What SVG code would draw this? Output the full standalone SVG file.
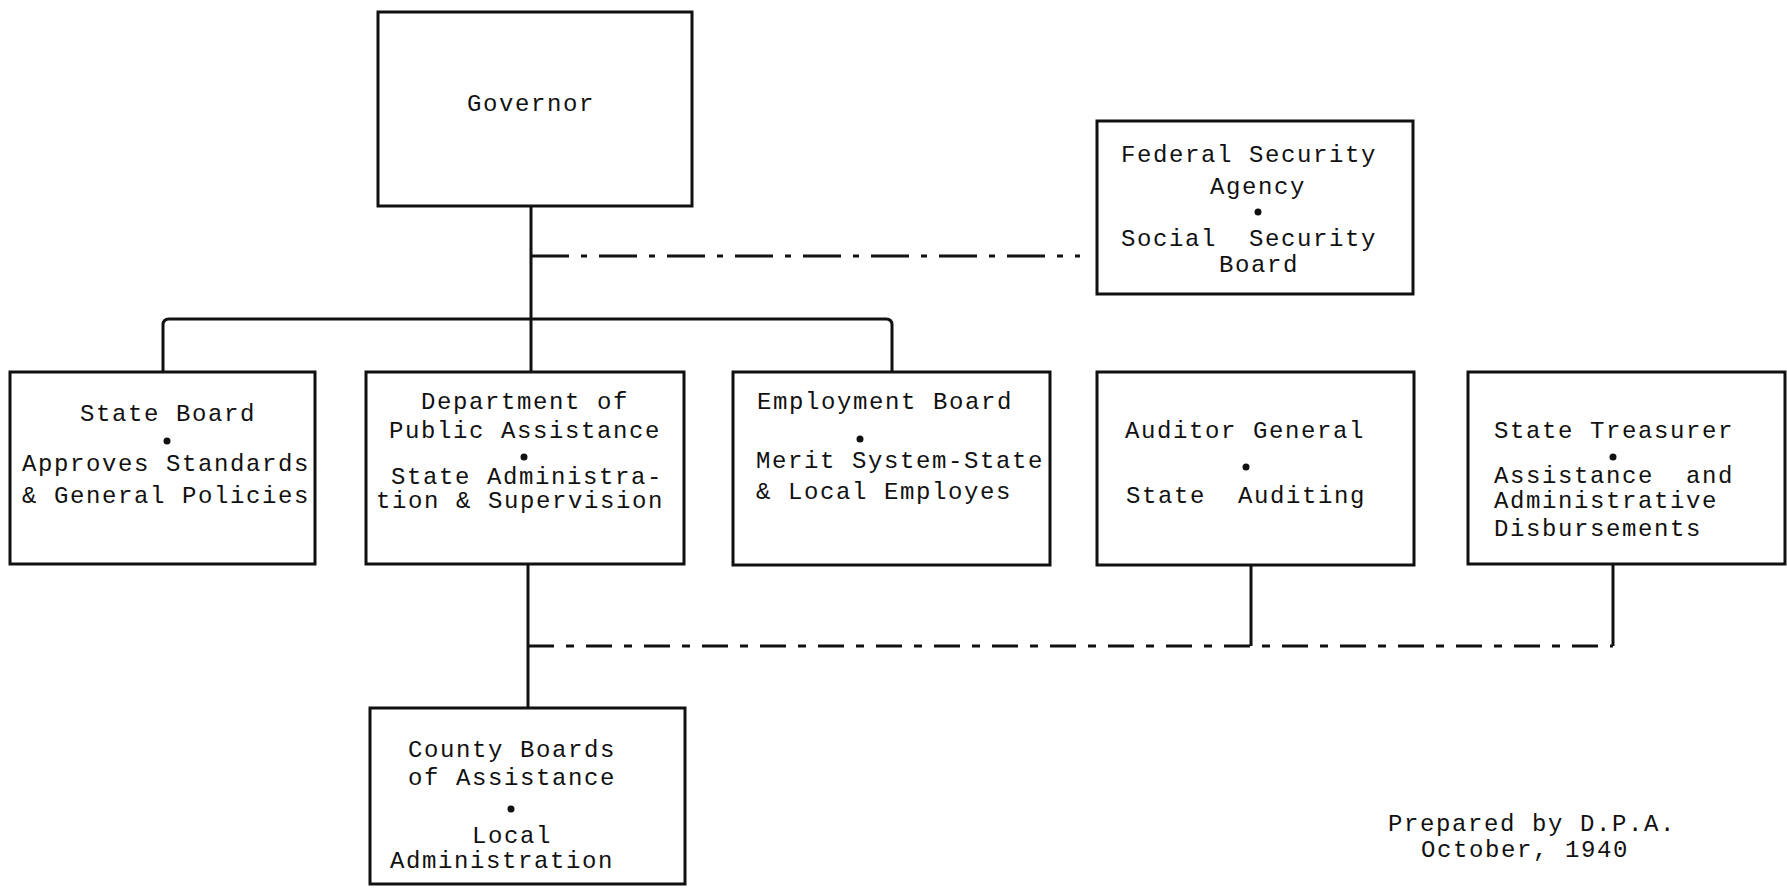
<svg xmlns="http://www.w3.org/2000/svg" width="1787" height="893" viewBox="0 0 1787 893">
<style>
.box{fill:none;stroke:#111;stroke-width:3}
.ln{fill:none;stroke:#111;stroke-width:3}
.dd{fill:none;stroke:#111;stroke-width:3;stroke-dasharray:38 12 6 12}
.ds{fill:none;stroke:#111;stroke-width:3;stroke-dasharray:26 12 8 12}
text{font-family:"Liberation Mono","DejaVu Sans Mono",monospace;font-size:24px;letter-spacing:1.6px;fill:#111}
.c{text-anchor:middle}
.dot{fill:#111}
</style>
<rect width="1787" height="893" fill="#fff"/>
<g id="connectors">
<line class="ln" x1="531" y1="206" x2="531" y2="372"/>
<path class="ln" d="M163 372 V325 Q163 319 169 319 H886 Q892 319 892 325 V372"/>
<line class="dd" x1="531" y1="256" x2="1080" y2="256"/>
<line class="ln" x1="528" y1="564" x2="528" y2="708"/>
<line class="ds" x1="528" y1="646" x2="1613" y2="646"/>
<line class="ln" x1="1251" y1="565" x2="1251" y2="646"/>
<line class="ln" x1="1613" y1="565" x2="1613" y2="646"/>
</g>
<g id="governor">
<rect class="box" x="378" y="12" width="314" height="194"/>
<text class="c" x="531" y="111">Governor</text>
</g>
<g id="federal">
<rect class="box" x="1097" y="121" width="316" height="173"/>
<text x="1121" y="162" xml:space="preserve">Federal Security</text>
<text class="c" x="1258" y="194">Agency</text>
<circle class="dot" cx="1258" cy="212" r="3.5"/>
<text x="1121" y="246" xml:space="preserve">Social  Security</text>
<text class="c" x="1259" y="272">Board</text>
</g>
<g id="stateboard">
<rect class="box" x="10" y="372" width="305" height="192"/>
<text class="c" x="168" y="421">State Board</text>
<circle class="dot" cx="167" cy="441" r="3.5"/>
<text x="22" y="471">Approves Standards</text>
<text x="22" y="503">&amp; General Policies</text>
</g>
<g id="dpa">
<rect class="box" x="366" y="372" width="318" height="192"/>
<text class="c" x="525" y="409">Department of</text>
<text class="c" x="525" y="438">Public Assistance</text>
<circle class="dot" cx="524" cy="457" r="3.5"/>
<text x="391" y="484">State Administra-</text>
<text x="376" y="508">tion &amp; Supervision</text>
</g>
<g id="employment">
<rect class="box" x="733" y="372" width="317" height="193"/>
<text x="757" y="409">Employment Board</text>
<circle class="dot" cx="860" cy="439" r="3.5"/>
<text x="756" y="468">Merit System-State</text>
<text x="756" y="499">&amp; Local Employes</text>
</g>
<g id="auditor">
<rect class="box" x="1097" y="372" width="317" height="193"/>
<text x="1125" y="438">Auditor General</text>
<circle class="dot" cx="1246" cy="467" r="3.5"/>
<text x="1126" y="503" xml:space="preserve">State  Auditing</text>
</g>
<g id="treasurer">
<rect class="box" x="1468" y="372" width="317" height="192"/>
<text x="1494" y="438">State Treasurer</text>
<circle class="dot" cx="1613" cy="457" r="3.5"/>
<text x="1494" y="483" xml:space="preserve">Assistance  and</text>
<text x="1494" y="508">Administrative</text>
<text x="1494" y="536">Disbursements</text>
</g>
<g id="county">
<rect class="box" x="370" y="708" width="315" height="176"/>
<text x="408" y="757">County Boards</text>
<text x="408" y="785">of Assistance</text>
<circle class="dot" cx="511" cy="809" r="3.5"/>
<text class="c" x="512" y="843">Local</text>
<text x="390" y="868">Administration</text>
</g>
<g id="note">
<text x="1388" y="831">Prepared by D.P.A.</text>
<text x="1421" y="857">October, 1940</text>
</g>
</svg>
